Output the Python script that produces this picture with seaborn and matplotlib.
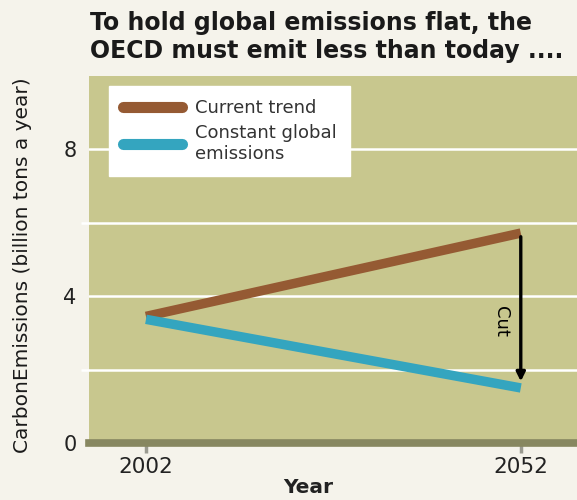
import numpy as np
import pandas as pd
import matplotlib
matplotlib.use("Agg")
import matplotlib.pyplot as plt
import seaborn as sns

# data
years = [2002, 2052]
current_trend = [3.45, 5.72]
constant_global = [3.37, 1.5]
series_names = ["Current trend", "Constant global\nemissions"]
series_colors = ["#955A33", "#34A5BF"]
ytick_vals = [0, 4, 8]
ygrid_minor = [2, 6]
cut_top = 5.62
cut_bottom = 1.68

df = pd.DataFrame({
    "Year": years * 2,
    "Emissions": current_trend + constant_global,
    "Series": [series_names[0]] * 2 + [series_names[1]] * 2,
})

sns.set_theme(style="white")
plt.rcParams['font.family'] = ['DejaVu Sans']

fig = plt.figure(figsize=(5.77, 5.0), dpi=100, facecolor="#F5F3EB")
ax = fig.add_axes([89/577, 57/500, 488/577, 367/500])
ax.set_facecolor("#C8C78E")

sns.lineplot(data=df, x="Year", y="Emissions", hue="Series",
             palette=series_colors, linewidth=6.8, ax=ax,
             solid_capstyle="butt")

ax.set_xlim(1994.4, 2059.5)
ax.set_ylim(0, 10)

# grid
ax.set_yticks(ytick_vals)
ax.set_yticks(ygrid_minor, minor=True)
ax.grid(True, axis="y", which="both", color="white", linewidth=1.8)
ax.set_axisbelow(True)
ax.tick_params(axis="y", which="major", length=0, pad=9, labelsize=15,
               labelcolor="#222222")
ax.tick_params(axis="y", which="minor", length=6, color="white", width=1.8,
               left=True, direction="out")

ax.set_xticks(years)
ax.tick_params(axis="x", which="major", length=7, width=2.5, color="#9a9a90",
               direction="out", pad=3, labelsize=15.5, labelcolor="#222222",
               bottom=True)

for s in ["top", "right", "left"]:
    ax.spines[s].set_visible(False)
ax.spines["bottom"].set_color("#878760")
ax.spines["bottom"].set_linewidth(5.5)

ax.set_xlabel("Year", fontsize=14.5, fontweight="bold", color="#222222")
ax.xaxis.set_label_coords(0.45, -0.095)
ax.set_ylabel("CarbonEmissions (billion tons a year)", fontsize=14.5,
              color="#1a1a1a")
ax.yaxis.set_label_coords(-0.117, 0.484)

# cut arrow
ax.annotate("", xy=(years[1], cut_bottom), xytext=(years[1], cut_top),
            arrowprops=dict(arrowstyle="-|>", color="black", lw=2.4,
                            mutation_scale=13, shrinkA=0, shrinkB=0))
ax.text(years[1] - 2.7, 3.3, "Cut", rotation=270, ha="center", va="center",
        fontsize=13, color="black")

leg = ax.legend(loc="upper left", bbox_to_anchor=(0.041, 0.973),
                frameon=True, fancybox=False, facecolor="white",
                edgecolor="white", framealpha=1, fontsize=13,
                handlelength=3.3, handletextpad=0.7, borderpad=0.75,
                labelspacing=0.35, borderaxespad=0)
for line in leg.get_lines():
    line.set_linewidth(8)
    line.set_solid_capstyle("round")
for t in leg.get_texts():
    t.set_color("#333333")

fig.text(90/577, 1 - 11/500,
         "To hold global emissions flat, the\nOECD must emit less than today ....",
         ha="left", va="top", fontsize=17, fontweight="bold",
         color="#1a1a1a", linespacing=1.22)

fig.savefig("out.png", dpi=100, facecolor=fig.get_facecolor())
